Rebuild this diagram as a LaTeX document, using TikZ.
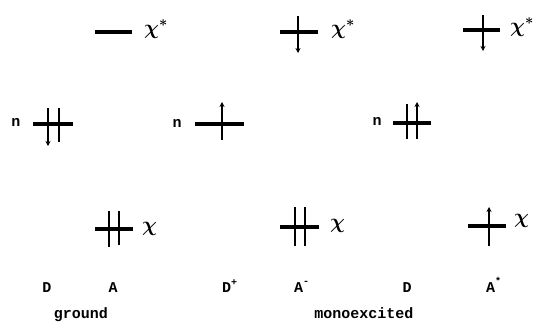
\documentclass[tikz,border=0pt]{standalone}
\usepackage{amsmath}
\usepackage{fontspec}
\setmonofont{Liberation Mono}
\usetikzlibrary{arrows.meta}
\begin{document}
\begin{tikzpicture}[x=1pt,y=-1pt,
  level/.style={line width=3.2pt},
  spin/.style={line width=2.2pt},
  spinarrow/.style={spin,-{Stealth[length=5pt,width=5pt]}},
  lab/.style={font=\fontsize{15}{15}\selectfont\ttfamily\bfseries, inner sep=0pt, anchor=base},
  orb/.style={font=\fontsize{20}{20}\selectfont, inner sep=0pt, anchor=west}]
\useasboundingbox (0,0) rectangle (535,323);

% ---------- column 1: ground ----------
\draw[level] (95,32) -- (132,32);
\node[orb] (c1top) at (144,29) {$\boldsymbol{\chi}^{\boldsymbol{*}}$};
\node[lab] (n1) at (16,127) {n};
\draw[level] (33,124) -- (73,124);
\draw[spinarrow] (48,108) -- (48,146);
\draw[spin] (59,108) -- (59,142);
\draw[level] (95,229) -- (133,229);
\draw[spin] (109,211) -- (109,247);
\draw[spin] (119,211) -- (119,245);
\node[orb] (c1bot) at (142,229) {$\boldsymbol{\chi}$};

% ---------- column 2 ----------
\draw[level] (280,32) -- (318,32);
\draw[spinarrow] (298,16) -- (298,53);
\node[orb] (c2top) at (331,29) {$\boldsymbol{\chi}^{\boldsymbol{*}}$};
\node[lab] (n2) at (177,128) {n};
\draw[level] (195,124) -- (244,124);
\draw[spinarrow] (222,140) -- (222,102);
\draw[level] (280,227) -- (319,227);
\draw[spin] (295,207) -- (295,246);
\draw[spin] (305,207) -- (305,246);
\node[orb] (c2bot) at (330,226) {$\boldsymbol{\chi}$};

% ---------- column 3 ----------
\draw[level] (463,30) -- (500,30);
\draw[spinarrow] (483,15) -- (483,51);
\node[orb] (c3top) at (510,27) {$\boldsymbol{\chi}^{\boldsymbol{*}}$};
\node[lab] (n3) at (377,126) {n};
\draw[level] (393,123) -- (431,123);
\draw[spin] (407,104) -- (407,139);
\draw[spinarrow] (417,139) -- (417,102);
\draw[level] (468,226) -- (506,226);
\draw[spinarrow] (489,246) -- (489,207);
\node[orb] (c3bot) at (514,221) {$\boldsymbol{\chi}$};

% ---------- labels ----------
\node[lab] (D1) at (47,292) {D};
\node[lab] (A1) at (113,292) {A};
\node[lab, anchor=base west] (D2) at (222,292) {D\raisebox{0.45em}{\fontsize{10}{10}\selectfont +}};
\node[lab, anchor=base west] (A2) at (294,292) {A\raisebox{0.5em}{\fontsize{10}{10}\selectfont -}};
\node[lab] (D3) at (407,292) {D};
\node[lab, anchor=base west] (A3) at (486,292) {A\raisebox{0.5em}{\fontsize{10}{10}\selectfont *}};
\node[lab] (ground) at (81,318) {ground};
\node[lab] (mono) at (364,318) {monoexcited};
\end{tikzpicture}
\end{document}
